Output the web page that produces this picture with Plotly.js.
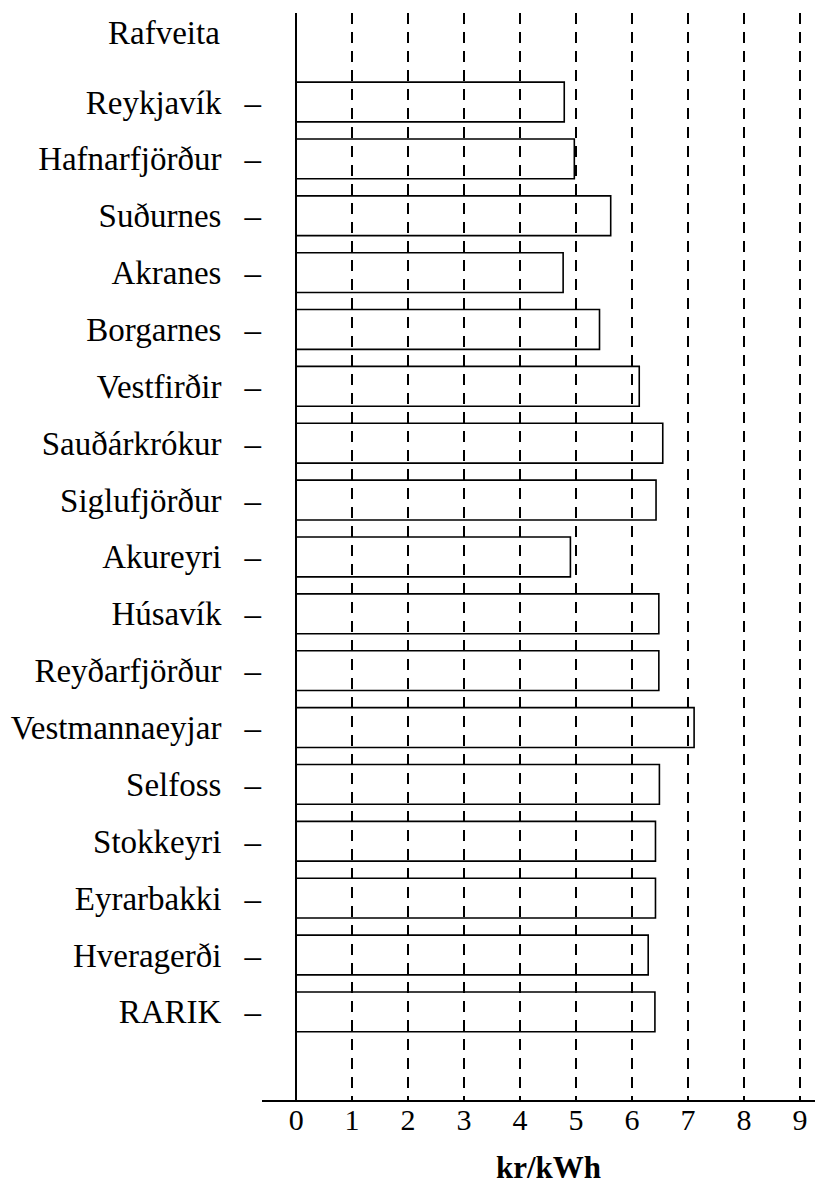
<!DOCTYPE html>
<html>
<head>
<meta charset="utf-8">
<script src="https://cdn.plot.ly/plotly-3.0.1.min.js"></script>
<style>html,body{margin:0;padding:0;background:#fff;}#chart{width:829px;height:1192px;}</style>
</head>
<body>
<div id="chart"></div>
<script>
const categories = ["Reykjavík","Hafnarfjörður","Suðurnes","Akranes","Borgarnes","Vestfirðir","Sauðárkrókur","Siglufjörður","Akureyri","Húsavík","Reyðarfjörður","Vestmannaeyjar","Selfoss","Stokkeyri","Eyrarbakki","Hveragerði","RARIK"];
const prices = [4.79, 4.97, 5.62, 4.77, 5.42, 6.13, 6.55, 6.43, 4.90, 6.48, 6.48, 7.11, 6.49, 6.42, 6.42, 6.29, 6.41];
const tickLabels = categories.map(c => c + "\u2002\u2009–");
const xTickVals = [0,1,2,3,4,5,6,7,8,9];
const headerText = "Rafveita";
const unitText = "<b>kr/kWh</b>";

const FONT = "Liberation Serif";

const trace = {
  type: "bar",
  orientation: "h",
  y: categories.map((c, i) => i),
  x: prices,
  width: 0.7,
  marker: {color: "rgba(255,255,255,0)", line: {color: "#000", width: 1.6}},
  hoverinfo: "skip"
};

const layout = {
  width: 829, height: 1192,
  margin: {l: 262, r: 14, t: 13, b: 92},
  paper_bgcolor: "#fff", plot_bgcolor: "#fff",
  showlegend: false,
  font: {family: FONT, size: 33, color: "#000"},
  xaxis: {
    range: [-0.61, 9.27],
    tickvals: xTickVals,
    ticktext: xTickVals.map(String),
    showgrid: true, gridcolor: "#000", gridwidth: 1.4, griddash: "11px,8px",
    zeroline: true, zerolinecolor: "#000", zerolinewidth: 1.6,
    showline: true, linecolor: "#000", linewidth: 1.6,
    ticks: "", ticklabelstandoff: -8,
    tickfont: {family: FONT, size: 30, color: "#000"},
    fixedrange: true
  },
  yaxis: {
    range: [17.55, -1.565],
    tickvals: categories.map((c, i) => i),
    ticktext: tickLabels,
    showgrid: false, zeroline: false, showline: false,
    ticks: "", ticklabelstandoff: 0,
    tickfont: {family: FONT, size: 33, color: "#000"},
    fixedrange: true
  },
  annotations: [
    {text: headerText, xref: "paper", yref: "paper", x: -0.073, y: 1.0 - (33 - 13) / 1087,
     xanchor: "right", yanchor: "middle", showarrow: false,
     font: {family: FONT, size: 33, color: "#000"}},
    {text: unitText, xref: "x", yref: "paper", x: 4.5, y: -(1167 - 1100) / 1087,
     xanchor: "center", yanchor: "middle", showarrow: false,
     font: {family: FONT, size: 31, color: "#000"}}
  ]
};

Plotly.newPlot("chart", [trace], layout, {displayModeBar: false, staticPlot: true});
</script>
</body>
</html>
